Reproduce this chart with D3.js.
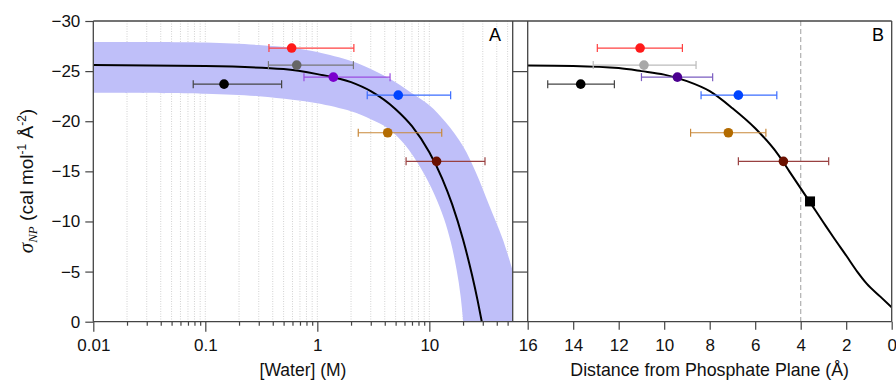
<!DOCTYPE html>
<html><head><meta charset="utf-8">
<script src="https://cdn.jsdelivr.net/npm/d3@7"></script>
<style>
body{margin:0;background:#fff;}
svg{display:block;font-family:"Liberation Sans",Arial,Helvetica,sans-serif;}
</style></head>
<body><svg id="c" width="896" height="381"></svg>
<script>
// ---------- data ----------
const yTicks = [-30, -25, -20, -15, -10, -5, 0];
const waterMajorTicks = [0.01, 0.1, 1, 10];
const distTicks = [16, 14, 12, 10, 8, 6, 4, 2, 0];

// panel A fit curve (water M, sigma)
const fitWater = [0.01, 0.1, 0.5, 1, 2, 3, 5, 7, 10, 13, 16, 20, 24, 27, 29.4];
const fitSigma = [-25.6, -25.5, -25.2, -24.7, -23.9, -23.0, -21.2, -19.5, -16.9, -14.3, -11.7, -8.2, -4.7, -2.1, 0];
// confidence band edges
const bandUpperWater = [0.01, 0.1, 0.3, 0.6, 1, 2, 3, 5, 7, 10, 14, 20, 26, 34, 45, 55.5];
const bandUpperSigma = [-27.9, -27.85, -27.6, -27.3, -26.9, -26.0, -25.2, -23.9, -22.8, -21.6, -19.9, -17.5, -14.9, -11.7, -8.3, -5.1];
const bandLowerWater = [0.01, 0.1, 0.3, 0.6, 1, 2, 3, 4.25, 6, 8.5, 11, 13.5, 15.5, 17.5, 19, 20.1];
const bandLowerSigma = [-22.85, -22.75, -22.5, -22.15, -21.8, -21.0, -20.2, -19.3, -17.7, -15.2, -12.8, -10.3, -8.0, -5.2, -2.6, 0];

// measured points
const pointSigma   = [-27.3, -25.6, -24.4, -22.6, -23.7, -18.85, -16.0];
const waterValue   = [0.59, 0.655, 1.39, 5.28, 0.147, 4.25, 11.6];
const waterLow     = [0.37, 0.366, 0.76, 2.79, 0.078, 2.32, 6.2];
const waterHigh    = [2.12, 2.10, 4.46, 15.5, 0.48, 12.9, 31.4];
const distValue    = [11.06, 10.89, 9.42, 6.74, 13.67, 7.18, 4.76];
const distFar      = [12.94, 13.12, 11.0, 8.38, 15.12, 8.84, 6.74];
const distNear     = [9.2, 8.6, 7.87, 5.05, 12.19, 5.53, 2.77];
const dotColorA    = ["#ff1a1a", "#666666", "#7a00cc", "#0044ff", "#000000", "#b36b00", "#6b1100"];
const barColorA    = ["#ff4040", "#777777", "#9a4de0", "#3a6cff", "#444444", "#c8883a", "#994040"];
const dotColorB    = ["#ff1a1a", "#a8a8a8", "#4b0090", "#0044ff", "#000000", "#b36b00", "#6b1100"];
const barColorB    = ["#ff4040", "#bbbbbb", "#7a5cc0", "#3a6cff", "#444444", "#c8883a", "#994040"];

// panel B fit curve (distance Å, sigma)
const fitDist      = [16, 14, 12, 11, 10, 9, 8, 7, 6, 5, 4.5, 4, 3.5, 3, 2.57, 2, 1.5, 1.1, 0.5, 0];
const fitDistSigma = [-25.57, -25.52, -25.3, -25.0, -24.65, -24.0, -23.0, -21.3, -19.3, -16.7, -15.0, -13.3, -11.6, -9.9, -8.45, -6.6, -4.95, -3.8, -2.5, -1.43];
const squareDist = [3.59];
const squareSigma = [-12.0];
const dashedDist = [4];

// ---------- layout ----------
const svg = d3.select("#c");
const yTop = 21, yBot = 321.7;
const aL = 93.3, aR = 512.7, bL = 527.7, bR = 891.7;
const xA = d3.scaleLog().domain([0.01, 55.5]).range([aL, aR]);
const xB = d3.scaleLinear().domain([16, 0]).range([bL, bR]);
const y = d3.scaleLinear().domain([0, -30]).range([yBot, yTop]);
const axisCol = "#444";

// clip
const defs = svg.append("defs");
defs.append("clipPath").attr("id", "clipA").append("rect")
  .attr("x", aL).attr("y", yTop).attr("width", aR - aL).attr("height", yBot - yTop);
defs.append("clipPath").attr("id", "clipB").append("rect")
  .attr("x", bL).attr("y", yTop).attr("width", bR - bL).attr("height", yBot - yTop);

// gridlines panel A
const gridVals = [];
[0.01, 0.1, 1, 10].forEach(d => { for (let k = 1; k <= 9; k++) { const v = k * d; if (v > 0.0100001 && v < 55.5) gridVals.push(v); } });
svg.append("g").selectAll("line").data(gridVals).join("line")
  .attr("x1", d => xA(d)).attr("x2", d => xA(d)).attr("y1", yTop).attr("y2", yBot)
  .attr("stroke", "#d2d2d2").attr("stroke-width", 1).attr("stroke-dasharray", "1,1.5");

// band
const gA = svg.append("g").attr("clip-path", "url(#clipA)");
const upper = bandUpperWater.map((w, i) => [xA(w), y(bandUpperSigma[i])]);
const lower = bandLowerWater.map((w, i) => [xA(w), y(bandLowerSigma[i])]);
const bandGen = d3.line().curve(d3.curveCatmullRom.alpha(0.5));
const smoothGen = d3.line().curve(d3.curveMonotoneX);
const upPath = bandGen(upper);
const loPath = bandGen(lower.slice().reverse());
const cornerX = xA(bandUpperWater[bandUpperWater.length - 1]) + 5;
const bandD = upPath + "L" + cornerX + "," + upper[upper.length - 1][1] + "L" + cornerX + "," + (y(0) + 5) +
  "L" + lower[lower.length - 1][0] + "," + (y(0) + 5) + "L" + loPath.slice(1) + "Z";
gA.append("path").attr("d", bandD).attr("fill", "#bfbff9").attr("stroke", "none");

// fit A
gA.append("path").attr("d", smoothGen(fitWater.map((w, i) => [xA(w), y(fitSigma[i])])))
  .attr("fill", "none").attr("stroke", "#000").attr("stroke-width", 2);

// dashed line B
svg.append("g").selectAll("line").data(dashedDist).join("line")
  .attr("x1", d => xB(d)).attr("x2", d => xB(d)).attr("y1", yTop).attr("y2", yBot)
  .attr("stroke", "#b0b0b0").attr("stroke-width", 1.2).attr("stroke-dasharray", "5,3");

// fit B
svg.append("g").attr("clip-path", "url(#clipB)").append("path")
  .attr("d", smoothGen(fitDist.map((d, i) => [xB(d), y(fitDistSigma[i])])))
  .attr("fill", "none").attr("stroke", "#000").attr("stroke-width", 2);

// error bars + points
function errBars(g, x, lo, hi, val, barCols, dotCols) {
  const idx = d3.range(val.length);
  const eb = g.append("g").selectAll("g").data(idx).join("g").attr("stroke", i => barCols[i]).attr("stroke-width", 1.2);
  eb.append("line").attr("x1", i => x(lo[i])).attr("x2", i => x(hi[i])).attr("y1", i => y(pointSigma[i])).attr("y2", i => y(pointSigma[i]));
  eb.append("line").attr("x1", i => x(lo[i])).attr("x2", i => x(lo[i])).attr("y1", i => y(pointSigma[i]) - 4).attr("y2", i => y(pointSigma[i]) + 4);
  eb.append("line").attr("x1", i => x(hi[i])).attr("x2", i => x(hi[i])).attr("y1", i => y(pointSigma[i]) - 4).attr("y2", i => y(pointSigma[i]) + 4);
  g.append("g").selectAll("circle").data(idx).join("circle")
    .attr("cx", i => x(val[i])).attr("cy", i => y(pointSigma[i])).attr("r", 4.8).attr("fill", i => dotCols[i]);
}
errBars(svg.append("g"), xA, waterLow, waterHigh, waterValue, barColorA, dotColorA);
errBars(svg.append("g"), xB, distFar, distNear, distValue, barColorB, dotColorB);

svg.append("g").selectAll("rect").data(squareDist).join("rect")
  .attr("x", (d) => xB(d) - 5).attr("y", (d, i) => y(squareSigma[i]) - 5).attr("width", 10).attr("height", 10).attr("fill", "#000");

// axes
function styleAxis(g) {
  g.select(".domain").remove();
  g.selectAll(".tick line").attr("stroke", axisCol).attr("stroke-width", 1.2);
  g.selectAll(".tick text").attr("fill", "#111").attr("font-size", 17).attr("font-family", "Liberation Sans, Arial, sans-serif");
}
svg.append("g").attr("transform", `translate(${aL},0)`)
  .call(d3.axisLeft(y).tickValues(yTicks).tickSize(8).tickPadding(5).tickFormat(d => d < 0 ? "\u2212" + Math.abs(d) : String(d))).call(styleAxis);
svg.append("g").attr("transform", `translate(${aR},0)`)
  .call(d3.axisRight(y).tickValues(yTicks.slice(1, -1)).tickSize(bL - aR).tickFormat("")).call(styleAxis);
svg.append("g").attr("transform", `translate(0,${yBot})`)
  .call(d3.axisBottom(xA).tickValues(gridVals.filter(v => !waterMajorTicks.some(m => Math.abs(m - v) < 1e-9))).tickSize(4).tickFormat("")).call(styleAxis);
svg.append("g").attr("transform", `translate(0,${yBot})`)
  .call(d3.axisBottom(xA).tickValues(waterMajorTicks).tickSize(10).tickPadding(7).tickFormat(d => String(d))).call(styleAxis);
svg.append("g").attr("transform", `translate(0,${yBot})`)
  .call(d3.axisBottom(xB).tickValues(distTicks).tickSize(8).tickPadding(9).tickFormat(d => String(d))).call(styleAxis);

// frame
const fr = svg.append("g").attr("stroke", axisCol).attr("stroke-width", 1.3).attr("fill", "none");
fr.append("line").attr("x1", aL).attr("x2", bR).attr("y1", yTop).attr("y2", yTop);
fr.append("line").attr("x1", aL).attr("x2", bR).attr("y1", yBot).attr("y2", yBot);
[aL, aR, bL, bR].forEach(x => fr.append("line").attr("x1", x).attr("x2", x).attr("y1", yTop).attr("y2", yBot));

// panel letters
svg.append("text").attr("x", 495).attr("y", 41).attr("text-anchor", "middle").attr("font-size", 18).text("A");
svg.append("text").attr("x", 878).attr("y", 41).attr("text-anchor", "middle").attr("font-size", 18).text("B");

// axis titles
svg.append("text").attr("x", (aL + aR) / 2).attr("y", 376).attr("text-anchor", "middle").attr("font-size", 17.5).attr("fill", "#111").text("[Water] (M)");
svg.append("text").attr("x", (bL + bR) / 2).attr("y", 376).attr("text-anchor", "middle").attr("font-size", 17.8).attr("fill", "#111").text("Distance from Phosphate Plane (Å)");

const yl = svg.append("text").attr("transform", "translate(33,181) rotate(-90)").attr("text-anchor", "middle")
  .attr("font-size", 19).attr("fill", "#111");
yl.append("tspan").attr("font-family", "Liberation Serif, serif").attr("font-style", "italic").attr("font-size", 21).text("σ");
yl.append("tspan").attr("font-family", "Liberation Serif, serif").attr("font-style", "italic").attr("font-size", 13).attr("dy", 4).text("NP");
yl.append("tspan").attr("dy", -4).text(" (cal mol");
yl.append("tspan").attr("font-size", 12).attr("dy", -7).text("-1");
yl.append("tspan").attr("dy", 7).text(" Å");
yl.append("tspan").attr("font-size", 12).attr("dy", -7).text("-2");
yl.append("tspan").attr("dy", 7).text(")");
</script></body></html>
